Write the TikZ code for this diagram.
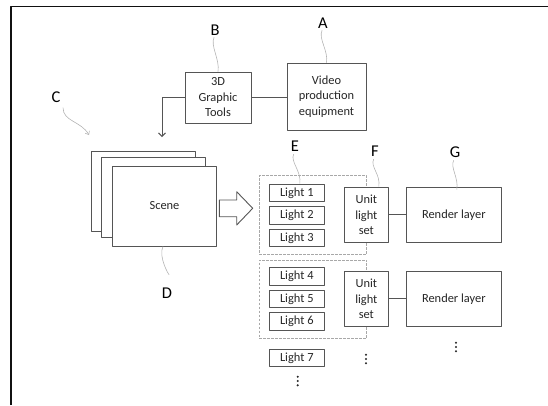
\documentclass[tikz,border=0pt]{standalone}
\usepackage{fontspec}
\setmainfont{Carlito}
\usetikzlibrary{arrows.meta,positioning,calc}
\definecolor{framek}{HTML}{111111}
\definecolor{boxline}{HTML}{555555}
\definecolor{dashgray}{HTML}{A8A8A8}
\definecolor{leadgray}{HTML}{B4B4B4}
\definecolor{ink}{HTML}{262626}
\tikzset{
    every picture/.style={line join=round},
    blockbox/.style={draw=boxline,fill=white,line width=0.9pt,inner sep=0pt,
      align=center,text=ink,font=\fontsize{12.4}{15.5}\selectfont},
    lightbox/.style={blockbox,minimum width=55pt,minimum height=17.5pt},
    unitbox/.style={blockbox,minimum width=44pt,minimum height=55.5pt},
    renderbox/.style={blockbox,minimum width=95.7pt,minimum height=55.5pt},
    scenebox/.style={blockbox,minimum width=103.8pt,minimum height=80pt},
    groupbox/.style={draw=dashgray,line width=0.7pt,dash pattern=on 2.5pt off 1.5pt,
      minimum width=107.4pt,minimum height=78.5pt,inner sep=0pt},
    tagletter/.style={inner sep=0pt,text=black,font=\fontsize{16.5}{18}\selectfont},
    leader/.style={draw=leadgray,line width=0.6pt},
    squig/.style={to path={.. controls ($(\tikztostart)+(-5,10)$)
      and ($(\tikztotarget)+(2,-12)$) .. (\tikztotarget)}},
    dotmark/.style={fill=ink},
    link/.style={draw=boxline,line width=0.9pt}
}

\begin{document}
\begin{tikzpicture}[x=1pt,y=-1pt,>={Straight Barb[length=3.5pt,width=7pt]}]
  \useasboundingbox (0,0) rectangle (548,405);
  \draw[framek,line width=1.5pt] (11,405) -- (11,6.5) -- (548,6.5);

  % tools feeding the scene
  \node[blockbox,minimum width=66pt,minimum height=51pt] (gfx) at (218,97.5) {3D\\Graphic\\Tools};
  \node[blockbox,minimum width=79pt,minimum height=67pt] (video) at (326.5,96.5) {Video\\production\\equipment};
  \draw[link] (gfx.east) -- (gfx.east -| video.west);

  \node[scenebox] (back) at (143.4,191) {};
  \node[scenebox] (middle) at (153.4,197.2) {};
  \node[scenebox] (front) at (164.5,206) {Scene};
  \coordinate (sceneIn) at (162,137);
  \draw[link,->] (gfx.west) -| (sceneIn);

  % hollow arrow into the light groups
  \draw[link,fill=white] (219.3,200) -- ++(17.4,0) -- ++(0,-8.3) -- ++(16,16.6)
    -- ++(-16,16.7) -- ++(0,-8.3) -- ++(-17.4,0) -- cycle;

  \node[groupbox] (grpA) at (313,215) {};
  \node[groupbox] (grpB) at (313,299.2) {};
  \foreach \n/\y in {1/192.8,2/215.4,3/238,4/276.4,5/299,6/321.6,7/358}
    \node[lightbox] (light\n) at (296.8,\y) {Light \n};

  \node[unitbox] (unit1) at (366.3,214.8) {Unit\\light\\set};
  \node[unitbox] (unit2) at (366.3,298.8) {Unit\\light\\set};
  \node[renderbox] (render1) at (453.8,214.8) {Render layer};
  \node[renderbox] (render2) at (453.8,298.8) {Render layer};
  \draw[link] (unit1) -- (render1);
  \draw[link] (unit2) -- (render2);

  % vertical dots
  \coordinate (moreLights) at (297.7,381);
  \coordinate (moreUnits) at (366,359);
  \coordinate (moreRenders) at (456,347);
  \foreach \c in {moreLights,moreUnits,moreRenders}
    \foreach \d in {-4.3,0,4.3}
      \fill[dotmark] ($(\c)+(0,\d)$) circle (1.15pt);

  % reference letters
  \node[tagletter] (tagA) at (323,23) {A};
  \node[tagletter] (tagB) at (215,30) {B};
  \node[tagletter] (tagC) at (56,97) {C};
  \node[tagletter] (tagD) at (167,293) {D};
  \node[tagletter] (tagE) at (295,146) {E};
  \node[tagletter] (tagF) at (375,151) {F};
  \node[tagletter] (tagG) at (455,152) {G};

  \draw[leader,shorten <=2pt] (tagA.south) to[squig] (video.north);
  \draw[leader,shorten <=2pt] (tagB.south) to[squig] (gfx.north);
  \draw[leader,shorten <=3pt] (tagE.south) to[squig] ($(light1.north)+(3,0)$);
  \draw[leader,shorten <=3pt] (tagF.south) to[squig] ($(unit1.north)+(12.5,0)$);
  \draw[leader,shorten <=3pt] (tagG.south) to[squig] ($(render1.north)+(3,3)$);
  \draw[leader,shorten >=13pt] ($(front.south)+(-1.5,0)$) to[squig] (tagD.north);
  \coordinate (cTip) at (89,135);
  \draw[leader,-{Straight Barb[length=3pt,width=5pt]}] ($(tagC.south)+(7,5)$)
    .. controls +(0,14) and +(-8,-14) .. (cTip);
\end{tikzpicture}
\end{document}
